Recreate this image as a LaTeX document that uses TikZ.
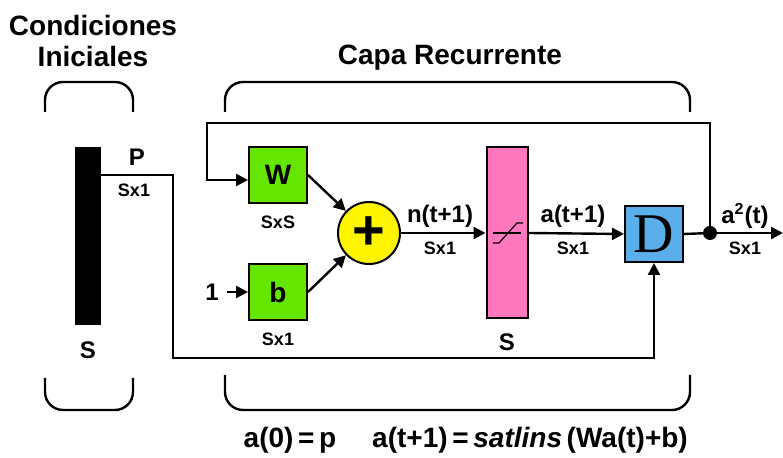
\documentclass[tikz,border=0pt]{standalone}
\usepackage{fontspec}
\setmainfont{Liberation Sans}
\newfontfamily\dfont{Liberation Serif}
\usetikzlibrary{positioning,arrows.meta}

\definecolor{verde}{RGB}{100,230,0}
\definecolor{amarillo}{RGB}{255,245,0}
\definecolor{rosa}{RGB}{255,120,190}
\definecolor{azul}{RGB}{90,175,235}

\begin{document}
\begin{tikzpicture}[x=0.5pt,y=-0.5pt,>={Triangle[length=6pt,width=6pt]},line width=1.2pt,
  bloque/.style={draw,line width=1pt,inner sep=0pt,minimum width=29pt,minimum height=28pt,font=\fontsize{14}{14}\selectfont\bfseries},
  dim/.style={font=\fontsize{9}{9}\selectfont\bfseries},
  etiq/.style={font=\fontsize{12}{12}\selectfont\bfseries},
  titulo/.style={font=\fontsize{14}{16}\selectfont\bfseries,align=center},
  llave/.style={rounded corners=9pt,line width=1.2pt}]

  \useasboundingbox (0,0) rectangle (783,458);

  % Titulos
  \node[titulo] (tci) at (93,41) {Condiciones\\Iniciales};
  \node[titulo] (tcr) at (450,58) {Capa Recurrente};

  % Llaves
  \draw[llave] (45,112) -- (45,82) -- (133,82) -- (133,112);
  \draw[llave] (225,112) -- (225,82) -- (690,82) -- (690,112);
  \draw[llave] (45,378) -- (45,410) -- (133,410) -- (133,378);
  \draw[llave] (225,375) -- (225,410) -- (690,410) -- (690,375);

  % Entrada
  \node[fill=black,minimum width=13pt,minimum height=89pt,inner sep=0pt] (p) at (88,236) {};
  \coordinate (pin) at (101,175);
  \node[etiq] (plab) at (137,157) {P};
  \node[dim] (pdim) at (134,190) {Sx1};
  \node[etiq] (pS) at (88,350) {S};

  % Bloques
  \node[bloque,fill=verde] (w) at (278,175) {W};
  \node[bloque,fill=verde] (b) at (278,292) {b};
  \node[dim,below=2pt of w] (wdim) {SxS};
  \node[dim,below=2pt of b] (bdim) {Sx1};
  \node[etiq] (one) at (212,292) {1};
  \node[circle,draw,fill=amarillo,minimum size=31pt,inner sep=0pt,line width=1pt,
        font=\fontsize{28}{28}\selectfont\bfseries] (sum) at (369,233) {+};
  \node[draw,fill=rosa,minimum width=20.5pt,minimum height=85.5pt,inner sep=0pt,line width=1pt] (f) at (507,233) {};
  \node[etiq,below=3pt of f] (fS) {S};
  \node[bloque,fill=azul,font=\fontsize{28}{28}\dfont] (d) at (654,234) {D};
  \coordinate (dot) at (710,233);
  \coordinate (out) at (783,233);

  % Funcion de transferencia
  \draw[line width=0.6pt] ([xshift=-7pt]f.center) -- ([xshift=7pt]f.center);
  \draw[line width=0.6pt] ([shift={(-7pt,-5pt)}]f.center) -- ++(3pt,0) -- ++(9pt,10pt) -- ++(3pt,0);

  % Etiquetas
  \node[etiq] (nlab) at (440,216) {n(t+1)};
  \node[dim] (ndim) at (440,248) {Sx1};
  \node[etiq] (alab) at (573,216) {a(t+1)};
  \node[dim] (adim) at (573,248) {Sx1};
  \node[etiq] (a2lab) at (745,216) {a$^{\mathbf 2}$(t)};
  \node[dim] (a2dim) at (745,248) {Sx1};

  % Conexiones
  \draw[->] (pin) -| (173,358) -| (d.south);
  \draw[->] (dot) |- (207,123) |- ([yshift=-2.5pt]w.west);
  \draw[->] (one) -- (b.west);
  \draw[->] (w.east) -- (sum);
  \draw[->] (b.east) -- (sum);
  \draw[->] (sum) -- (f.west);
  \draw[->] (f.east) -- (d.west);
  \draw (d.east) -- (dot);
  \draw[->] (dot) -- (out);
  \fill (dot) circle (3.5pt);

  % Ecuaciones
  \node[font=\fontsize{14}{14}\selectfont\bfseries] (eq0) at (290,440) {a(0)\,=\,p};
  \node[font=\fontsize{14}{14}\selectfont\bfseries] (eq1) at (530,440) {a(t+1)\,=\,\textit{satlins}\,(Wa(t)+b)};

\end{tikzpicture}
\end{document}
